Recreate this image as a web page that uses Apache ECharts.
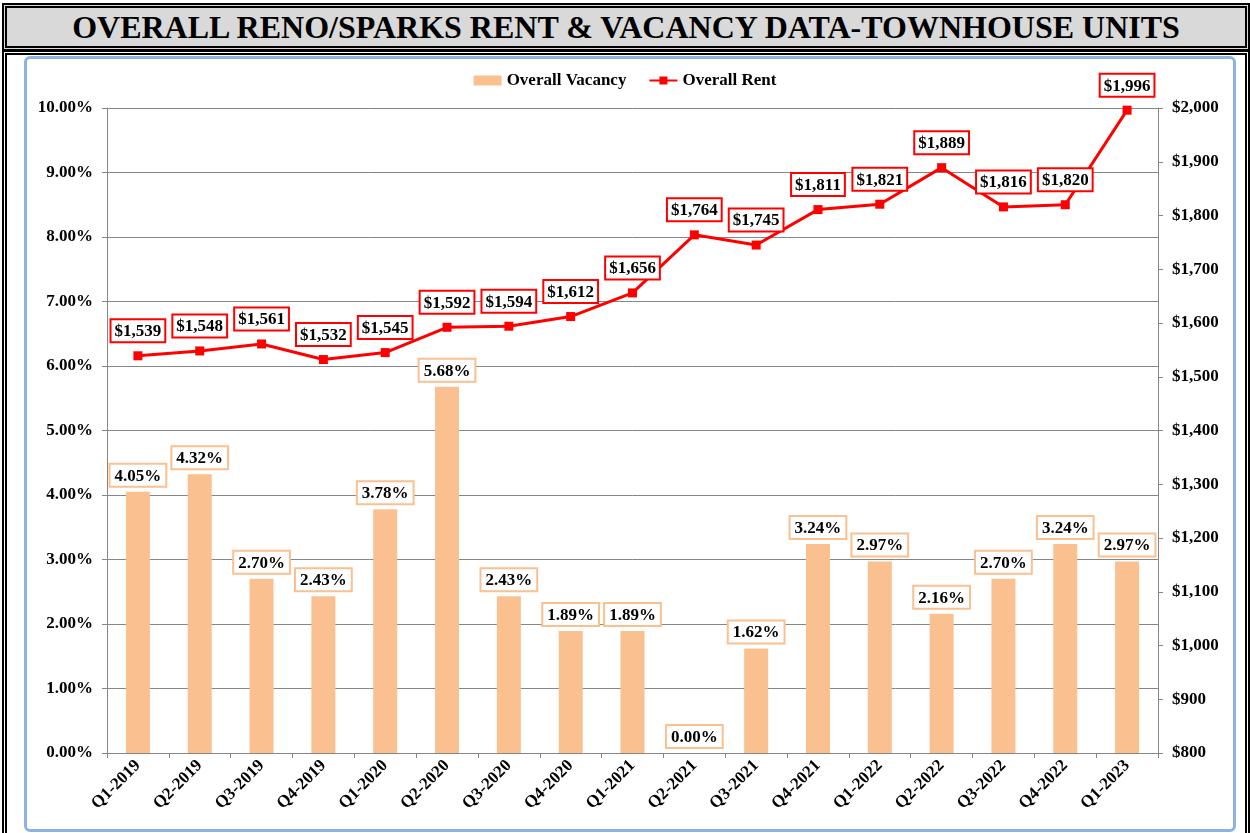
<!DOCTYPE html>
<html><head><meta charset="utf-8">
<script src="https://cdn.jsdelivr.net/npm/echarts@6/dist/echarts.min.js"></script>
<style>
html,body{margin:0;padding:0;width:1250px;height:833px;overflow:hidden;background:#fff;}
#title{position:absolute;left:2px;top:3px;width:1238px;height:38px;border:5px double #000;background:#d9d9d9;
 font-family:"Liberation Serif",serif;font-weight:bold;font-size:32px;line-height:38px;text-align:center;color:#000;}
#box{position:absolute;left:2px;top:50px;width:1238px;height:800px;border:5px double #000;}
#blue{position:absolute;left:24px;top:56px;width:1206px;height:770px;border:3px solid #8db3e2;border-radius:6px;}
#chart{position:absolute;left:0;top:0;width:1250px;height:833px;}
</style></head>
<body>
<div id="title">OVERALL RENO/SPARKS RENT &amp; VACANCY DATA-TOWNHOUSE UNITS</div>
<div id="box"></div>
<div id="blue"></div>
<div id="chart"></div>
<script>
var categories = ["Q1-2019","Q2-2019","Q3-2019","Q4-2019","Q1-2020","Q2-2020","Q3-2020","Q4-2020","Q1-2021","Q2-2021","Q3-2021","Q4-2021","Q1-2022","Q2-2022","Q3-2022","Q4-2022","Q1-2023"];
var vacancy = [4.05,4.32,2.70,2.43,3.78,5.68,2.43,1.89,1.89,0.00,1.62,3.24,2.97,2.16,2.70,3.24,2.97];
var rent = [1539,1548,1561,1532,1545,1592,1594,1612,1656,1764,1745,1811,1821,1889,1816,1820,1996];

var FONT = '"Liberation Serif", "Times New Roman", serif';
var FS = 17;
function money(v){ return '$' + v.toLocaleString('en-US'); }

var chart = echarts.init(document.getElementById('chart'), null, {renderer:'canvas'});
chart.setOption({
  animation:false,
  backgroundColor:'transparent',
  textStyle:{fontFamily:FONT},
  legend:{
    top:67, left:'center', itemGap:22,
    textStyle:{fontFamily:FONT,fontWeight:'bold',fontSize:FS,color:'#000'},
    data:[
      {name:'Overall Vacancy', icon:'rect', itemStyle:{color:'#fac090'}},
      {name:'Overall Rent'}
    ],
    itemWidth:28, itemHeight:10
  },
  grid:{left:107,right:92,top:108,bottom:80,containLabel:false},
  xAxis:{
    type:'category', data:categories, boundaryGap:true,
    axisLine:{lineStyle:{color:'#868686',width:1}},
    axisTick:{show:true,alignWithLabel:false,length:5,lineStyle:{color:'#868686'}},
    axisLabel:{rotate:45,interval:0,margin:10,fontFamily:FONT,fontWeight:'bold',fontSize:FS,color:'#000'}
  },
  yAxis:[
    {type:'value',min:0,max:10,interval:1,
     axisLine:{show:true,lineStyle:{color:'#868686'}},
     axisTick:{show:true,length:5,lineStyle:{color:'#868686'}},
     splitLine:{show:true,lineStyle:{color:'#868686',width:1}},
     axisLabel:{margin:14,fontFamily:FONT,fontWeight:'bold',fontSize:FS,color:'#000',formatter:function(v){return v.toFixed(2)+'%';}}
    },
    {type:'value',min:800,max:2000,interval:100,position:'right',
     axisLine:{show:true,lineStyle:{color:'#868686'}},
     axisTick:{show:true,length:5,lineStyle:{color:'#868686'}},
     splitLine:{show:false},
     axisLabel:{margin:14,fontFamily:FONT,fontWeight:'bold',fontSize:FS,color:'#000',formatter:function(v){return money(v);}}
    }
  ],
  series:[
    {name:'Overall Vacancy',type:'bar',yAxisIndex:0,data:vacancy,barWidth:24,
     itemStyle:{color:'#fac090'},
     label:{show:true,position:'top',distance:6,fontFamily:FONT,fontWeight:'bold',fontSize:FS,color:'#000',
       backgroundColor:'#fff',borderColor:'#fac090',borderWidth:2,padding:[3,4,1,4],
       formatter:function(p){return p.value.toFixed(2)+'%';}}
    },
    {name:'Overall Rent',type:'line',yAxisIndex:1,data:rent,
     symbol:'rect',symbolSize:9,
     lineStyle:{color:'#ff0000',width:3},
     itemStyle:{color:'#ff0000'},
     label:{show:true,position:'top',distance:10,fontFamily:FONT,fontWeight:'bold',fontSize:FS,color:'#000',
       backgroundColor:'#fff',borderColor:'#ff0000',borderWidth:2,padding:[3,3,1,3],
       formatter:function(p){return money(p.value);}}
    }
  ]
});
</script>
</body></html>
